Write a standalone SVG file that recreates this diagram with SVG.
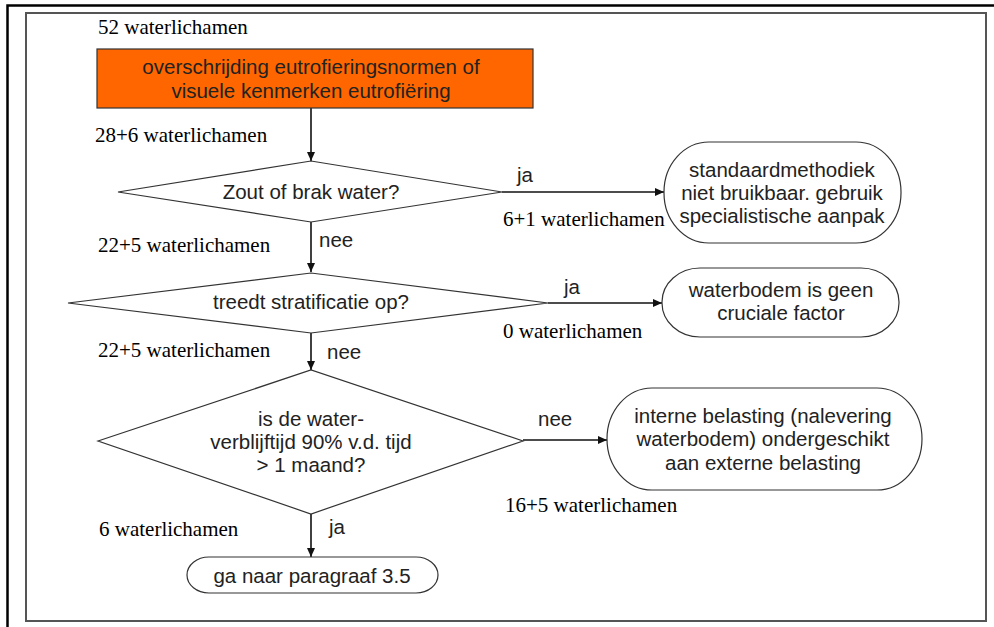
<svg xmlns="http://www.w3.org/2000/svg" width="994" height="627" viewBox="0 0 994 627">
  <defs>
    <marker id="arr" markerUnits="userSpaceOnUse" markerWidth="10" markerHeight="8" refX="9" refY="4" orient="auto">
      <path d="M0,0 L9,4 L0,8 Z" fill="#111"/>
    </marker>
    <style>
      .lbl { font-family: "Liberation Serif", "Times New Roman", serif; font-size: 21px; fill: #000; }
      .txt { font-family: "Liberation Sans", Arial, Helvetica, sans-serif; font-size: 20.5px; fill: #222; text-anchor: middle; }
      .yn { font-family: "Liberation Sans", Arial, Helvetica, sans-serif; font-size: 20.5px; fill: #222; }
      .shape { fill: #fff; stroke: #333; stroke-width: 1.2; }
      .conn { stroke: #111; stroke-width: 1.6; fill: none; marker-end: url(#arr); }
    </style>
  </defs>
  <rect x="0" y="0" width="994" height="627" fill="#fff"/>
  <!-- outer frame (partially visible) -->
  <path d="M7.5,627 V5.5 H994" fill="none" stroke="#000" stroke-width="2.5"/>
  <!-- inner frame -->
  <rect x="26" y="13" width="960" height="608" fill="none" stroke="#555" stroke-width="2"/>

  <g id="connectors">
    <line class="conn" x1="311" y1="108" x2="311" y2="161"/>
    <line class="conn" x1="311" y1="222" x2="311" y2="272"/>
    <line class="conn" x1="311" y1="333" x2="311" y2="370"/>
    <line class="conn" x1="311" y1="514" x2="311" y2="557"/>
    <line class="conn" x1="502" y1="192" x2="664" y2="192"/>
    <line class="conn" x1="548" y1="303" x2="662" y2="303"/>
    <line class="conn" x1="523" y1="440" x2="607" y2="440"/>
  </g>

  <g id="labels">
    <text class="lbl" x="98" y="34">52 waterlichamen</text>
    <text class="lbl" x="95" y="142">28+6 waterlichamen</text>
    <text class="lbl" x="98" y="252">22+5 waterlichamen</text>
    <text class="lbl" x="503" y="226">6+1 waterlichamen</text>
    <text class="lbl" x="503" y="338">0 waterlichamen</text>
    <text class="lbl" x="98" y="357">22+5 waterlichamen</text>
    <text class="lbl" x="505" y="512">16+5 waterlichamen</text>
    <text class="lbl" x="99" y="536">6 waterlichamen</text>
    <text class="yn" x="517" y="182">ja</text>
    <text class="yn" x="319" y="247">nee</text>
    <text class="yn" x="564" y="294">ja</text>
    <text class="yn" x="327" y="359">nee</text>
    <text class="yn" x="538" y="426">nee</text>
    <text class="yn" x="329" y="534">ja</text>
  </g>

  <g id="start">
    <rect x="97" y="49" width="436" height="59" fill="#FF6600" stroke="#333" stroke-width="1.2"/>
    <text class="txt" x="311" y="74">overschrijding eutrofieringsnormen of</text>
    <text class="txt" x="311" y="98">visuele kenmerken eutrofiëring</text>
  </g>

  <g id="d1">
    <polygon class="shape" points="118,192 311,161 502,192 311,222"/>
    <text class="txt" x="311" y="199">Zout of brak water?</text>
  </g>

  <g id="d2">
    <polygon class="shape" points="68,303 311,273 548,303 311,333"/>
    <text class="txt" x="311" y="309">treedt stratificatie op?</text>
  </g>

  <g id="d3">
    <polygon class="shape" points="98,441 311,370 523,441 311,514"/>
    <text class="txt" x="311" y="426">is de water-</text>
    <text class="txt" x="311" y="449">verblijftijd 90% v.d. tijd</text>
    <text class="txt" x="311" y="472">&gt; 1 maand?</text>
  </g>

  <g id="n1">
    <rect class="shape" x="664" y="142" width="237" height="101" rx="45" ry="50"/>
    <text class="txt" x="782" y="177">standaardmethodiek</text>
    <text class="txt" x="782" y="200">niet bruikbaar. gebruik</text>
    <text class="txt" x="782" y="223">specialistische aanpak</text>
  </g>

  <g id="n2">
    <rect class="shape" x="662" y="268" width="237" height="69" rx="38" ry="34"/>
    <text class="txt" x="781" y="297">waterbodem is geen</text>
    <text class="txt" x="781" y="320">cruciale factor</text>
  </g>

  <g id="n3">
    <rect class="shape" x="607" y="388" width="315" height="102" rx="45" ry="51"/>
    <text class="txt" x="763" y="423">interne belasting (nalevering</text>
    <text class="txt" x="763" y="446">waterbodem) ondergeschikt</text>
    <text class="txt" x="763" y="470">aan externe belasting</text>
  </g>

  <g id="n4">
    <rect class="shape" x="187" y="557" width="251" height="36" rx="22" ry="18"/>
    <text class="txt" x="312" y="583">ga naar paragraaf 3.5</text>
  </g>
</svg>
